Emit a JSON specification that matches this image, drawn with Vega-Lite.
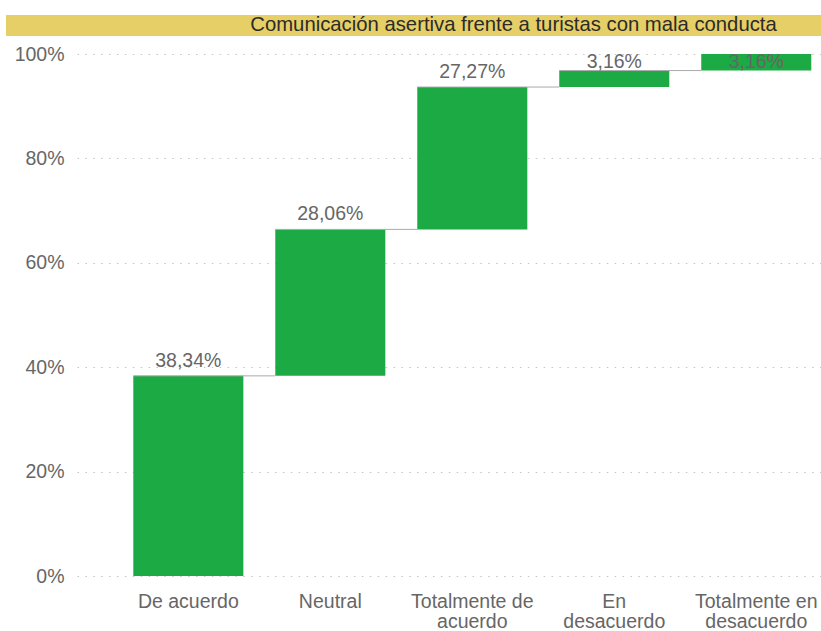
{
  "$schema": "https://vega.github.io/schema/vega-lite/v6.json",
  "padding": {"left": 6, "top": 15, "right": 0, "bottom": 0},
  "background": "white",
  "width": 815,
  "height": 522,
  "config": {
    "locale": {"number": {"decimal": ",", "thousands": ".", "grouping": [3], "currency": ["", " €"]}},
    "font": "Liberation Sans",
    "view": {"stroke": null}
  },
  "data": {
    "values": [
      {"categoria": "De acuerdo", "valor": 0.3834, "inicio": 0, "fin": 0.3834, "siguiente": "Neutral"},
      {"categoria": "Neutral", "valor": 0.2806, "inicio": 0.3834, "fin": 0.664, "siguiente": "Totalmente de acuerdo"},
      {"categoria": "Totalmente de acuerdo", "valor": 0.2727, "inicio": 0.664, "fin": 0.9367, "siguiente": "En desacuerdo"},
      {"categoria": "En desacuerdo", "valor": 0.0316, "inicio": 0.9367, "fin": 0.9683, "siguiente": "Totalmente en desacuerdo"},
      {"categoria": "Totalmente en desacuerdo", "valor": 0.0316, "inicio": 0.9683, "fin": 0.9999, "siguiente": null}
    ]
  },
  "layer": [
    {
      "data": {"values": [{"titulo": "Comunicación asertiva frente a turistas con mala conducta"}]},
      "layer": [
        {
          "mark": {"type": "rect", "color": "#E6CF66"},
          "encoding": {
            "y": {"datum": 1.0345, "type": "quantitative"},
            "y2": {"datum": 1.0747}
          }
        },
        {
          "mark": {"type": "text", "fontSize": 20.3, "color": "#2B2B2B", "dx": 100, "baseline": "middle"},
          "encoding": {
            "y": {"datum": 1.0546, "type": "quantitative"},
            "text": {"field": "titulo", "type": "nominal"}
          }
        }
      ]
    },
    {
      "mark": {"type": "bar", "color": "#1BAA43"},
      "encoding": {
        "x": {
          "field": "categoria",
          "type": "nominal",
          "sort": null,
          "scale": {
            "domain": ["De acuerdo", "Neutral", "Totalmente de acuerdo", "En desacuerdo", "Totalmente en desacuerdo"],
            "range": [71, 815],
            "paddingInner": 0.225,
            "paddingOuter": 0.2324,
            "align": 0.853
          },
          "axis": {
            "title": null,
            "ticks": false,
            "domain": false,
            "labelAngle": 0,
            "labelPadding": 16,
            "labelFontSize": 19.5,
            "labelColor": "#666666",
            "labelLineHeight": 20,
            "labelLimit": 200,
            "labelExpr": "datum.value == 'Totalmente de acuerdo' ? ['Totalmente de', 'acuerdo'] : datum.value == 'En desacuerdo' ? ['En', 'desacuerdo'] : datum.value == 'Totalmente en desacuerdo' ? ['Totalmente en', 'desacuerdo'] : datum.value"
          }
        },
        "y": {
          "field": "inicio",
          "type": "quantitative",
          "scale": {"domain": [0, 1], "nice": false},
          "axis": {
            "title": null,
            "format": ".0%",
            "values": [0, 0.2, 0.4, 0.6, 0.8, 1],
            "grid": true,
            "gridColor": "#C4C4C4",
            "gridDash": [1.5, 6.4],
            "ticks": false,
            "domain": false,
            "labelPadding": -58,
            "labelAlign": "right",
            "labelFontSize": 19.5,
            "labelColor": "#666666"
          }
        },
        "y2": {"field": "fin"}
      }
    },
    {
      "transform": [{"filter": "datum.siguiente != null"}],
      "mark": {"type": "rule", "color": "#AAAAAA", "strokeWidth": 1},
      "encoding": {
        "x": {"field": "categoria", "type": "nominal", "bandPosition": 0},
        "x2": {"field": "siguiente", "bandPosition": 0},
        "y": {"field": "fin", "type": "quantitative"}
      }
    },
    {
      "transform": [{"filter": "datum.fin < 0.95"}],
      "mark": {"type": "text", "fontSize": 19.5, "color": "#666666", "baseline": "alphabetic", "dy": -9},
      "encoding": {
        "x": {"field": "categoria", "type": "nominal"},
        "y": {"field": "fin", "type": "quantitative"},
        "text": {"field": "valor", "type": "quantitative", "format": ".2%"}
      }
    },
    {
      "transform": [{"filter": "datum.fin >= 0.95"}],
      "mark": {"type": "text", "fontSize": 19.5, "color": "#666666", "baseline": "alphabetic", "dy": 14},
      "encoding": {
        "x": {"field": "categoria", "type": "nominal"},
        "y": {"datum": 1, "type": "quantitative"},
        "text": {"field": "valor", "type": "quantitative", "format": ".2%"}
      }
    }
  ]
}
